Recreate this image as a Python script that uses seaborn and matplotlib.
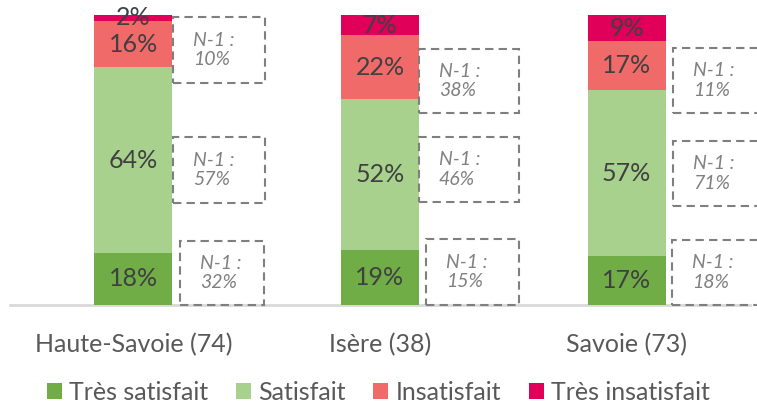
import numpy as np
import pandas as pd
import matplotlib
matplotlib.use('Agg')
import matplotlib.pyplot as plt
from matplotlib.patches import Rectangle, Patch
import seaborn as sns

# data
categories = ['Haute-Savoie (74)', 'Isère (38)', 'Savoie (73)']
tres_satisfait = [18, 19, 17]
satisfait = [64, 52, 57]
insatisfait = [16, 22, 17]
tres_insatisfait = [2, 7, 9]
# previous year (N-1), boxes from top to bottom: insatisfait, satisfait, tres satisfait
n1_insatisfait = [10, 38, 11]
n1_satisfait = [57, 46, 71]
n1_tres_satisfait = [32, 15, 18]

series_names = ['Très satisfait', 'Satisfait', 'Insatisfait', 'Très insatisfait']
colors = ['#70AD47', '#A9D18E', '#F06A6A', '#E0005A']

# layout of the dashed boxes (x offset from bar centre, width, y bottom, y top)
box_dx = [[0.161, 0.161, 0.189], [0.158, 0.158, 0.186], [0.188, 0.188, 0.184]]
box_w = [[0.373, 0.373, 0.341], [0.405, 0.405, 0.377], [0.405, 0.405, 0.377]]
box_y = [[(76.6, 99.3), (35.2, 57.9), (0, 22.1)],
         [(66.2, 88.3), (35.5, 57.9), (0, 22.8)],
         [(66.2, 88.6), (34.1, 56.6), (0, 22.4)]]

df = pd.DataFrame({'cat': categories,
                   'Très satisfait': tres_satisfait,
                   'Satisfait': satisfait,
                   'Insatisfait': insatisfait,
                   'Très insatisfait': tres_insatisfait})
cum = df[series_names].cumsum(axis=1)

sns.set_style('white')
plt.rcParams['font.family'] = ['Lato', 'DejaVu Sans']

fig = plt.figure(figsize=(7.57, 4.03), dpi=100)
ax = fig.add_axes([10/757, 1 - 305/403, 740/757, 290/403])

# stacked bars: draw cumulative totals from the top layer down
for name, col in reversed(list(zip(series_names, colors))):
    sns.barplot(x=df['cat'], y=cum[name], color=col, saturation=1,
                width=0.315, errorbar=None, ax=ax, zorder=2,
                linewidth=0, edgecolor='none')

# labels inside segments
for i in range(len(categories)):
    bottom = 0
    for name in series_names:
        v = df[name][i]
        ax.text(i, bottom + v / 2, f'{v}%', ha='center', va='center',
                fontsize=18, color='#404040', zorder=3)
        bottom += v

# N-1 boxes
n1 = [n1_insatisfait, n1_satisfait, n1_tres_satisfait]
for i in range(len(categories)):
    for j in range(3):
        x0 = i + box_dx[i][j]
        y0, y1 = box_y[i][j]
        rect = Rectangle((x0, y0), box_w[i][j], y1 - y0, fill=False,
                         edgecolor='#7F7F7F', linewidth=1.5,
                         linestyle=(0, (4, 2.5)), clip_on=False, zorder=3)
        ax.add_patch(rect)
        ax.text(x0 + 0.08, (y0 + y1) / 2, f'N-1 :\n{n1[j][i]}%',
                ha='left', va='center', fontsize=14, style='italic',
                color='#808080', linespacing=1.2, zorder=3)

ax.set_xlim(-0.5, 2.5)
ax.set_ylim(0, 100)
ax.set_xlabel('')
ax.set_ylabel('')
ax.set_yticks([])
for s in ['top', 'left', 'right']:
    ax.spines[s].set_visible(False)
ax.spines['bottom'].set_color('#D9D9D9')
ax.spines['bottom'].set_linewidth(2)
ax.spines['bottom'].set_zorder(1)
ax.tick_params(axis='x', length=0, pad=20, labelsize=18, labelcolor='#595959')

handles = [Patch(facecolor=c, edgecolor='none') for c in colors]
fig.legend(handles, series_names, loc='center', bbox_to_anchor=(0.5, 1 - 392/403),
           ncol=4, frameon=False, fontsize=18, handlelength=0.6, handleheight=0.6,
           handletextpad=0.3, columnspacing=1.1, labelcolor='#595959')

fig.savefig('out.png', dpi=100)
